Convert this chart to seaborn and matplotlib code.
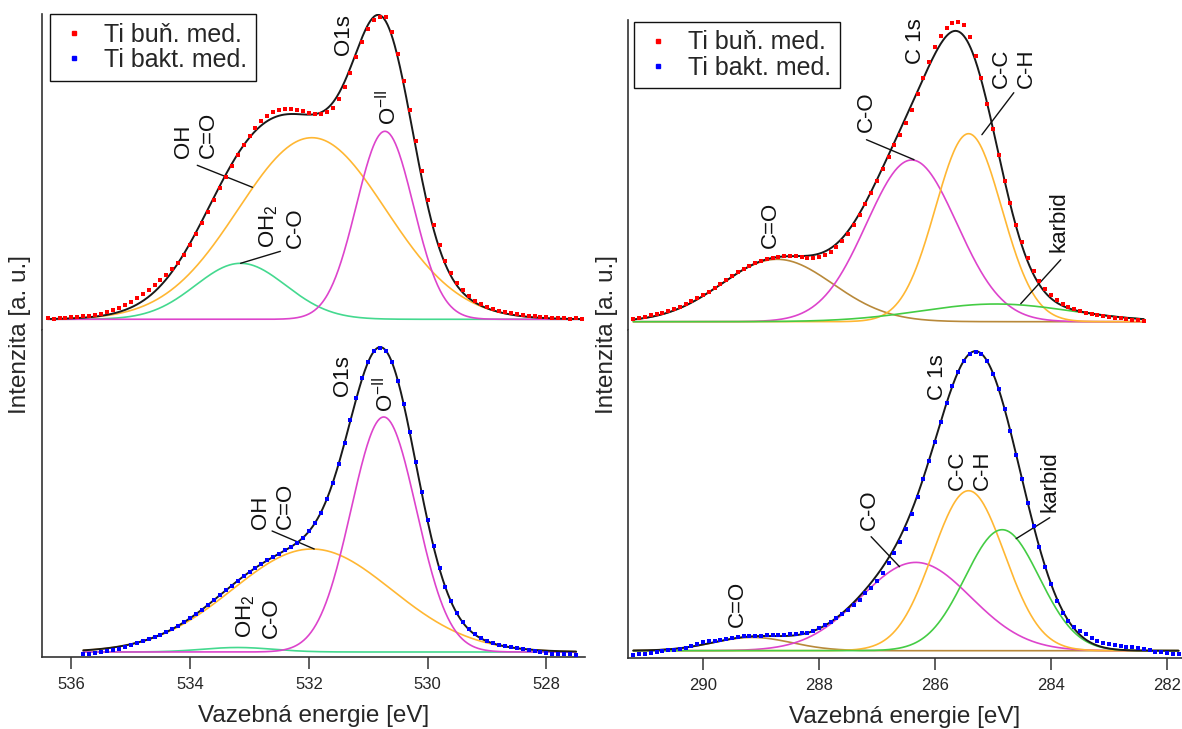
import numpy as np
import seaborn as sns
import matplotlib.pyplot as plt
from matplotlib.lines import Line2D

# Gaussian fit components: centre [eV], sigma [eV], height [a.u.]
O_NAMES = ['OH / C=O', 'OH2 / C-O', 'O-II']
O_TOP_CENTER = [531.95, 533.15, 530.72]
O_TOP_SIGMA = [1.24, 0.76, 0.48]
O_TOP_HEIGHT = [181.6, 56.0, 188.0]
O_BOT_CENTER = [531.95, 533.2, 530.74]
O_BOT_SIGMA = [1.34, 0.6, 0.55]
O_BOT_HEIGHT = [103.0, 4.5, 235.0]

C_NAMES = ['C=O', 'C-O', 'C-C / C-H', 'karbid']
C_TOP_CENTER = [288.72, 286.40, 285.42, 284.95]
C_TOP_SIGMA = [0.96, 0.78, 0.57, 1.3]
C_TOP_HEIGHT = [62.4, 161.7, 188.0, 17.7]
C_BOT_CENTER = [289.15, 286.33, 285.42, 284.84]
C_BOT_SIGMA = [0.68, 0.95, 0.62, 0.64]
C_BOT_HEIGHT = [13.3, 88.3, 160.0, 121.0]

# measured points, 0.1 eV step starting at the first energy
O_TOP_START = 536.4   # Ti buň. med.
O_TOP_DOTS = [1, 0, 1, 1, 2, 2, 3, 3, 4, 5,
              7, 9, 11, 14, 17, 21, 25, 29, 34, 39,
              44, 50, 56, 64, 74, 85, 96, 107, 119, 131,
              142, 153, 164, 174, 183, 191, 198, 203, 207, 209,
              210, 210, 209, 208, 206, 205, 205, 207, 211, 220,
              232, 246, 262, 277, 290, 299, 302, 302, 287, 265,
              238, 209, 178, 148, 119, 94, 74, 58, 46, 36,
              29, 23, 18, 15, 12, 10, 8, 7, 6, 5,
              4, 3, 3, 2, 2, 1, 1, 1, 0, 1, 0]
O_BOT_START = 535.8   # Ti bakt. med.
O_BOT_DOTS = [-2, -2, -1, 0, 1, 2, 3, 5, 7, 9,
              11, 13, 15, 17, 20, 23, 26, 30, 34, 38,
              42, 47, 52, 57, 62, 66, 71, 76, 80, 84,
              88, 92, 95, 98, 102, 105, 109, 114, 121, 129,
              139, 153, 169, 188, 209, 232, 254, 274, 290, 301,
              304, 301, 290, 271, 248, 220, 190, 160, 132, 106,
              84, 65, 51, 39, 30, 23, 18, 14, 11, 9,
              7, 6, 5, 4, 3, 2, 1, 0, -1, -2,
              -2, -2, -2, -3]
C_TOP_START = 291.2
C_TOP_DOTS = [3, 4, 5, 7, 8, 9, 11, 13, 15, 18,
              21, 24, 27, 30, 34, 38, 42, 46, 50, 53,
              56, 59, 61, 63, 64, 65, 66, 66, 66, 65,
              64, 64, 65, 67, 70, 75, 81, 88, 97, 107,
              118, 129, 141, 153, 165, 177, 187, 199, 212, 228,
              244, 260, 275, 286, 294, 299, 300, 297, 285, 266,
              244, 218, 193, 167, 141, 119, 97, 80, 64, 51,
              41, 33, 27, 22, 18, 15, 13, 11, 9, 8,
              7, 6, 5, 4, 4, 3, 2, 2, 1]
C_BOT_START = 291.2
C_BOT_DOTS = [-4, -3, -3, -2, -1, 0, 1, 1, 2, 3,
              5, 7, 9, 10, 10, 11, 12, 13, 14, 15,
              15, 15, 15, 16, 16, 16, 16, 17, 17, 18,
              18, 20, 23, 26, 29, 33, 37, 41, 46, 51,
              58, 63, 70, 78, 88, 98, 109, 122, 137, 154,
              172, 190, 209, 229, 248, 265, 279, 290, 297, 299,
              297, 290, 277, 262, 242, 220, 196, 172, 148, 125,
              104, 84, 67, 50, 38, 30, 24, 20, 17, 13,
              10, 8, 7, 6, 5, 4, 4, 3, 2, 1,
              -1, -1, -2, -3, -3]

O_TICKS = [536, 534, 532, 530, 528]
C_TICKS = [290, 288, 286, 284, 282]
LEGEND_LABELS = ['Ti buň. med.', 'Ti bakt. med.']

O_COLORS = ['#ffb733', '#44d98f', '#dd44cc']
C_COLORS = ['#b8893a', '#dd44cc', '#ffb733', '#44cc44']
RED, BLUE = '#ff0000', '#0000ff'

sns.set_theme(style='white')
plt.rcParams['font.family'] = ['Liberation Sans', 'DejaVu Sans']
plt.rcParams['mathtext.fontset'] = 'custom'
plt.rcParams['mathtext.rm'] = 'Liberation Sans'
plt.rcParams['mathtext.it'] = 'Liberation Sans:italic'

W, H = 1182, 729
fig = plt.figure(figsize=(W / 100, H / 100), dpi=100)


def px_axes(x0, y0, x1, y1):
    return fig.add_axes([x0 / W, 1 - y1 / H, (x1 - x0) / W, (y1 - y0) / H])


def gauss(e, c, s, h):
    return h * np.exp(-0.5 * ((e - c) / s) ** 2)


def spectrum(ax, start, dots, centers, sigmas, heights, colors, dot_color):
    ed = np.round(start - 0.1 * np.arange(len(dots)), 2)
    e = np.linspace(ed[0], ed[-1], 600)
    total = np.zeros_like(e)
    for c, s, h, col in zip(centers, sigmas, heights, colors):
        y = gauss(e, c, s, h)
        total += y
        sns.lineplot(x=e, y=y, ax=ax, color=col, lw=1.2, estimator=None, sort=False)
    sns.lineplot(x=e, y=total, ax=ax, color='#1a1a1a', lw=1.4, estimator=None, sort=False)
    sns.scatterplot(x=ed, y=dots, ax=ax, color=dot_color, marker='s', s=8,
                    linewidth=0, legend=False, zorder=4, clip_on=False)


def style(ax, xlim, ylim, bottom):
    ax.set_xlim(*xlim)
    ax.set_ylim(*ylim)
    ax.set_yticks([])
    ax.set_ylabel('')
    for side in ['top', 'right']:
        ax.spines[side].set_visible(False)
    ax.spines['left'].set_color('#333333')
    ax.spines['left'].set_linewidth(1.2)
    if bottom:
        ax.spines['bottom'].set_color('#333333')
        ax.spines['bottom'].set_linewidth(1.2)
        ax.tick_params(axis='x', direction='out', length=8.5, width=1.1,
                       color='#333333', labelsize=12, pad=6, bottom=True)
        ax.set_xlabel('Vazebná energie [eV]', fontsize=17.5, labelpad=9)
    else:
        ax.spines['bottom'].set_visible(False)
        ax.set_xticks([])
        ax.set_xlabel('')


def label(ax, e, i, text, va='bottom'):
    ax.text(e, i, text, rotation=90, ha='center', va=va, fontsize=16,
            linespacing=1.25, multialignment='left', color='#111111')


def leader(ax, p1, p2):
    ax.plot([p1[0], p2[0]], [p1[1], p2[1]], color='#111111', lw=1.0)


# ---- O 1s panel ----
ax_ot = px_axes(41.7, 14, 585, 330)
ax_ob = px_axes(41.7, 330, 585, 657)
spectrum(ax_ot, O_TOP_START, O_TOP_DOTS, O_TOP_CENTER, O_TOP_SIGMA, O_TOP_HEIGHT, O_COLORS, RED)
spectrum(ax_ob, O_BOT_START, O_BOT_DOTS, O_BOT_CENTER, O_BOT_SIGMA, O_BOT_HEIGHT, O_COLORS, BLUE)
style(ax_ot, (536.5, 527.35), (-10.7, 305.3), False)
style(ax_ob, (536.5, 527.35), (-5, 322), True)
ax_ob.set_xticks(O_TICKS)

label(ax_ot, 531.42, 285, 'O1s', va='center')
label(ax_ot, 530.68, 194, r'O$^{\mathrm{-II}}$')
label(ax_ot, 533.90, 161, 'OH\nC=O')
leader(ax_ot, (533.88, 154), (532.95, 132))
label(ax_ot, 532.46, 71, 'OH$_2$\nC-O')
leader(ax_ot, (532.48, 68), (533.15, 56))

label(ax_ob, 531.43, 276, 'O1s', va='center')
label(ax_ob, 530.72, 240, r'O$^{\mathrm{-II}}$')
label(ax_ob, 532.61, 123, 'OH\nC=O')
leader(ax_ob, (532.62, 121), (531.91, 103))
label(ax_ob, 532.85, 14, 'OH$_2$\nC-O')

# ---- C 1s panel ----
ax_ct = px_axes(627.5, 20, 1182, 330)
ax_cb = px_axes(627.5, 330, 1182, 658)
spectrum(ax_ct, C_TOP_START, C_TOP_DOTS, C_TOP_CENTER, C_TOP_SIGMA, C_TOP_HEIGHT, C_COLORS, RED)
spectrum(ax_cb, C_BOT_START, C_BOT_DOTS, C_BOT_CENTER, C_BOT_SIGMA, C_BOT_HEIGHT, C_COLORS, BLUE)
style(ax_ct, (291.30, 281.74), (-8.3, 301.7), False)
style(ax_cb, (291.30, 281.74), (-7.3, 320.7), True)
ax_cb.set_xticks(C_TICKS)

label(ax_ct, 286.33, 281, 'C 1s', va='center')
label(ax_ct, 287.18, 190, 'C-O')
leader(ax_ct, (287.18, 182), (286.36, 162))
label(ax_ct, 284.64, 234, 'C-C\nC-H')
leader(ax_ct, (284.64, 229), (285.19, 187))
label(ax_ct, 288.83, 74, 'C=O')
label(ax_ct, 283.86, 70, 'karbid')
leader(ax_ct, (283.83, 62), (284.52, 18))

label(ax_cb, 285.95, 251, 'C 1s')
label(ax_cb, 285.40, 161, 'C-C\nC-H')
label(ax_cb, 284.02, 139, 'karbid')
leader(ax_cb, (284.02, 133), (284.60, 112))
label(ax_cb, 287.13, 121, 'C-O')
leader(ax_cb, (287.10, 114), (286.61, 84))
label(ax_cb, 289.41, 24, 'C=O')

# legends and shared y labels
handles = [Line2D([], [], marker='s', ls='', color=RED, markersize=3),
           Line2D([], [], marker='s', ls='', color=BLUE, markersize=3)]
for ax, (lx, ly) in [(ax_ot, (50, 14)), (ax_ct, (634, 21.7))]:
    leg = ax.legend(handles, LEGEND_LABELS, loc='upper left',
                    bbox_to_anchor=(lx / W, 1 - ly / H), bbox_transform=fig.transFigure,
                    frameon=True, fancybox=False, framealpha=1, edgecolor='#111111',
                    fontsize=18, handlelength=1.2, handletextpad=0.6,
                    borderpad=0.35, labelspacing=0.05, borderaxespad=0)
    leg.get_frame().set_linewidth(1.0)

fig.text(20 / W, 1 - 335 / H, 'Intenzita [a. u.]', rotation=90, ha='center',
         va='center', fontsize=17.5)
fig.text(607 / W, 1 - 335 / H, 'Intenzita [a. u.]', rotation=90, ha='center',
         va='center', fontsize=17.5)

fig.savefig('out.png', dpi=100)
